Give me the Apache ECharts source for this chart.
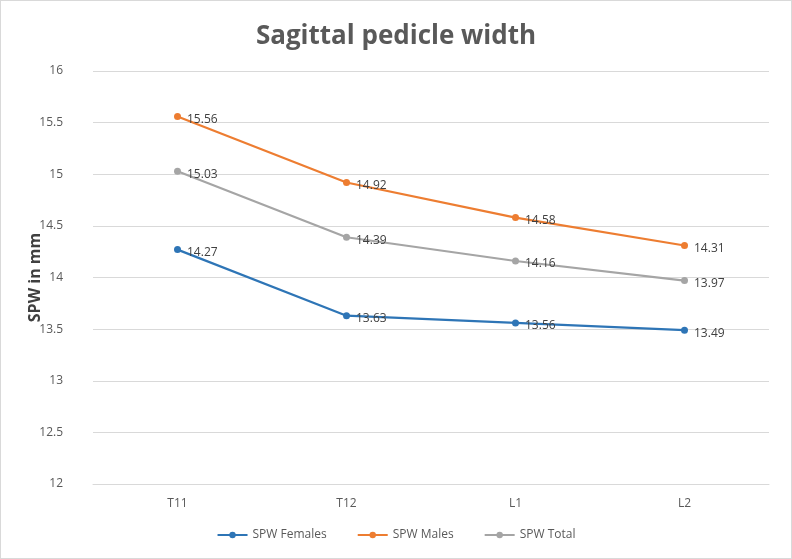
<!DOCTYPE html>
<html><head><meta charset="utf-8">
<script src="https://cdn.jsdelivr.net/npm/echarts@6/dist/echarts.min.js"></script>
<style>html,body{margin:0;padding:0;background:#fff}#c{width:792px;height:559px;box-sizing:border-box;border:1px solid #d9d9d9}</style>
</head><body><div id="c"></div>
<script>
const categories = ['T11','T12','L1','L2'];
const females = [14.27, 13.63, 13.56, 13.49];
const males = [15.56, 14.92, 14.58, 14.31];
const total = [15.03, 14.39, 14.16, 13.97];
const names = ['SPW Females','SPW Males','SPW Total'];
const colors = ['#2e75b6','#ed7d31','#a5a5a5'];
const chart = echarts.init(document.getElementById('c'));
const mk = (name, data, color) => ({
  name, type:'line', data, color,
  symbol:'circle', symbolSize:7,
  lineStyle:{width:2.2,color},
  itemStyle:{color},
  label:{show:true, position:'right', distance:6, offset:[0,3], color:'#404040', fontSize:12, fontFamily:'Open Sans', formatter:p=>p.value.toFixed(2)}
});
chart.setOption({
  animation:false,
  title:{text:'Sagittal pedicle width', left:'center', top:18, textStyle:{fontSize:26, fontWeight:'bold', color:'#595959', fontFamily:'Open Sans'}},
  grid:{left:92, right:22, top:70, bottom:74},
  legend:{bottom:12, left:'center', itemWidth:30, itemHeight:8, itemGap:30, textStyle:{fontSize:12, color:'#595959', fontFamily:'Open Sans'}, data:names},
  xAxis:{type:'category', data:categories, boundaryGap:true,
    axisLine:{show:true, lineStyle:{color:'#d9d9d9'}}, axisTick:{show:false},
    axisLabel:{color:'#595959', fontSize:12, margin:14, fontFamily:'Open Sans'}},
  yAxis:{type:'value', min:12, max:16, interval:0.5,
    name:'SPW in mm', nameLocation:'middle', nameGap:50, nameRotate:90, nameMoveOverlap:false,
    nameTextStyle:{fontSize:16, fontWeight:'bold', color:'#404040', fontFamily:'Open Sans'},
    axisLine:{show:false}, axisTick:{show:false},
    splitLine:{lineStyle:{color:'#d9d9d9'}},
    axisLabel:{color:'#595959', fontSize:12, margin:30, fontFamily:'Open Sans'}},
  series:[mk(names[0],females,colors[0]), mk(names[1],males,colors[1]), mk(names[2],total,colors[2])]
});
</script></body></html>
